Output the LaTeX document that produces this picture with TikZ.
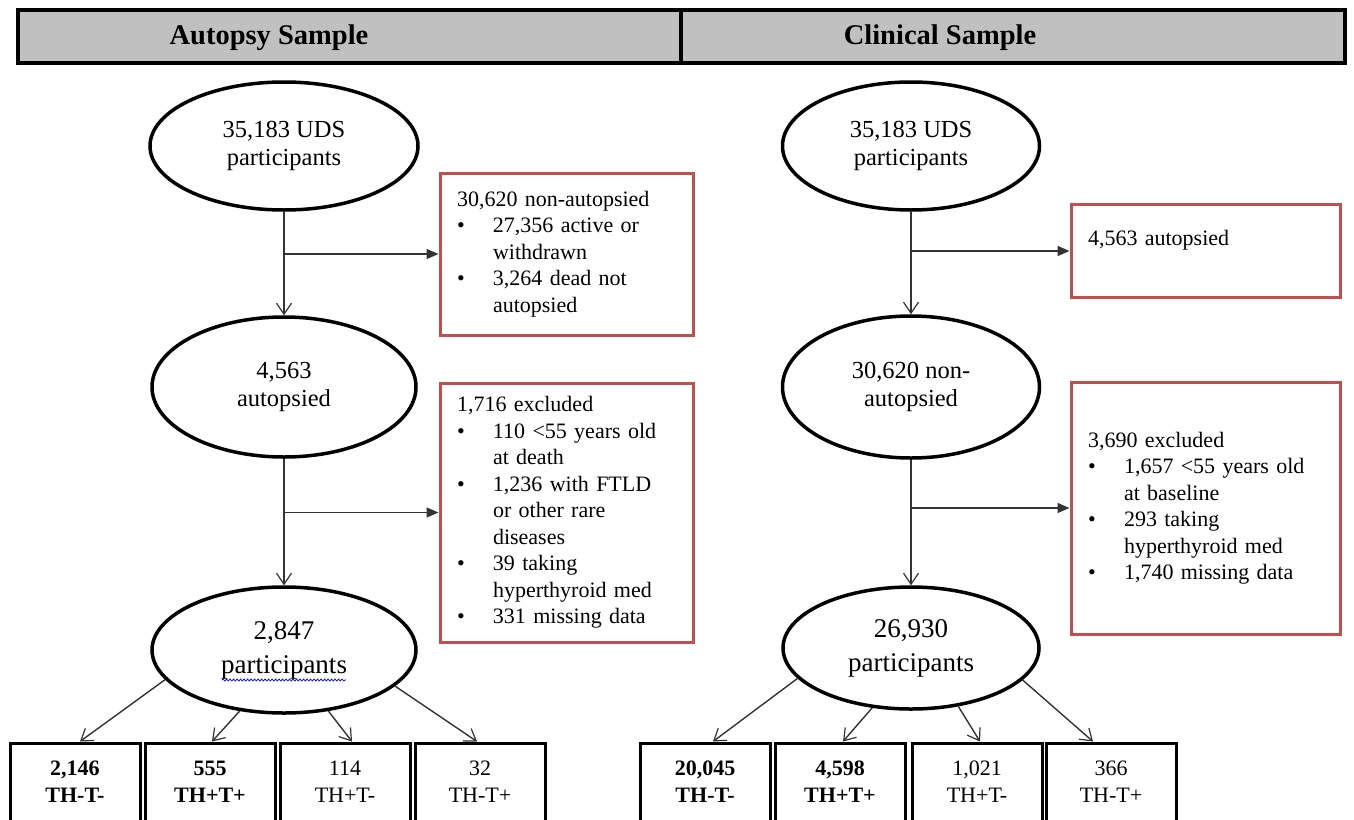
\documentclass[tikz,border=0pt]{standalone}
\usepackage{fontspec}
\setmainfont{Liberation Serif}
\usetikzlibrary{arrows.meta,shapes.geometric,decorations.pathmorphing}
\definecolor{boxred}{HTML}{C0504D}
\definecolor{hdrgray}{HTML}{C0C0C0}
\newcommand{\bl}{\makebox[36pt][l]{\textbullet}}
\newcommand{\ind}{\hspace*{36pt}}
\begin{document}
\begin{tikzpicture}[x=1pt,y=-1pt,
  every node/.style={font=\fontsize{22}{26.5}\selectfont},
  hdr/.style={draw, fill=hdrgray, line width=3.5pt, minimum height=53pt, inner sep=0pt},
  hdrtext/.style={font=\fontsize{28.5}{32}\selectfont\bfseries},
  ell/.style={ellipse, draw, line width=3.5pt, align=center, inner sep=0pt, font=\fontsize{24.5}{28}\selectfont},
  big/.style={font=\fontsize{27}{34}\selectfont},
  redbox/.style={draw=boxred, line width=3pt, align=left, text width=219pt, inner xsep=17pt, inner ysep=0pt},
  redboxR/.style={redbox, text width=235pt},
  catbox/.style={draw, line width=3pt, minimum width=130pt, minimum height=78pt, align=center, inner sep=0pt, font=\fontsize{22}{27}\selectfont},
  vline/.style={line width=1.4pt, draw=black!80, -{Straight Barb[length=11pt,width=15pt,line width=1.2pt]}},
  hline/.style={line width=1.4pt, draw=black!80, -{Triangle[length=12pt,width=10pt]}},
]
\useasboundingbox (0,0) rectangle (1354,819);

% header
\node[hdr, minimum width=663pt] (hl) at (349.5,36.5) {};
\node[hdr, minimum width=664pt] (hr) at (1013,36.5) {};
\node[hdrtext] (thl) at (269,38) {Autopsy Sample};
\node[hdrtext] (thr) at (940,38) {Clinical Sample};

% left column
\node[ell, minimum width=268pt, minimum height=128pt] (e1) at (284,146) {35,183 UDS\\participants};
\node[ell, minimum width=264pt, minimum height=140pt] (e2) at (284,387) {4,563\\autopsied};
\node[ell, big, minimum width=264pt, minimum height=126pt] (e3) at (284,650) {2,847\\participants};

\node[redbox, minimum height=162pt] (lb1) at (566.5,254) {30,620 non-autopsied\\
\bl 27,356 active or\\
\ind withdrawn\\
\bl 3,264 dead not\\
\ind autopsied};
\node[redbox, minimum height=259pt] (lb2) at (566.5,512.5) {1,716 excluded\\
\bl 110 <55 years old\\
\ind at death\\
\bl 1,236 with FTLD\\
\ind or other rare\\
\ind diseases\\
\bl 39 taking\\
\ind hyperthyroid med\\
\bl 331 missing data};

\draw[vline] (e1.south) -- (e2.north);
\draw[vline] (e2.south) -- (e3.north);
\draw[hline] (e1.south |- lb1.west) -- (lb1.west);
\draw[hline] (e2.south |- lb2.west) -- (lb2.west);

\draw[blue, line width=0.7pt, decorate, decoration={snake, amplitude=1pt, segment length=3.5pt}]
  (e3.center) ++(-62,30) -- ++(124,0);

\node[catbox] (a1) at (75,782) {\textbf{2,146}\\\textbf{TH-T-}};
\node[catbox] (a2) at (210,782) {\textbf{555}\\\textbf{TH+T+}};
\node[catbox] (a3) at (345,782) {114\\TH+T-};
\node[catbox] (a4) at (480,782) {32\\TH-T+};

\draw[vline] (e3.194) -- ([xshift=5pt]a1.north);
\draw[vline] (e3.234) -- ([xshift=2pt]a2.north);
\draw[vline] (e3.306) -- ([xshift=7pt]a3.north);
\draw[vline] (e3.342) -- ([xshift=-3pt]a4.north);

% right column
\node[ell, minimum width=257pt, minimum height=128pt] (r1) at (911,146) {35,183 UDS\\participants};
\node[ell, minimum width=257pt, minimum height=142pt] (r2) at (911,387) {30,620 non-\\autopsied};
\node[ell, big, minimum width=256pt, minimum height=122pt] (r3) at (911,648) {26,930\\participants};

\node[redboxR, minimum height=93pt] (rb1) at (1205.5,251) {4,563 autopsied\\\mbox{}};
\node[redboxR, minimum height=252pt] (rb2) at (1205.5,508) {3,690 excluded\\
\bl 1,657 <55 years old\\
\ind at baseline\\
\bl 293 taking\\
\ind hyperthyroid med\\
\bl 1,740 missing data};

\draw[vline] (r1.south) -- (r2.north);
\draw[vline] (r2.south) -- (r3.north);
\draw[hline] (r1.south |- rb1.west) -- (rb1.west);
\draw[hline] (r2.south |- rb2.west) -- (rb2.west);

\node[catbox] (c1) at (705,782) {\textbf{20,045}\\\textbf{TH-T-}};
\node[catbox] (c2) at (840,782) {\textbf{4,598}\\\textbf{TH+T+}};
\node[catbox] (c3) at (977,782) {1,021\\TH+T-};
\node[catbox] (c4) at (1111,782) {366\\TH-T+};

\draw[vline] (r3.195) -- ([xshift=8pt]c1.north);
\draw[vline] (r3.237) -- ([xshift=3pt]c2.north);
\draw[vline] (r3.309) -- ([xshift=3pt]c3.north);
\draw[vline] (r3.344) -- ([xshift=-18pt]c4.north);
\end{tikzpicture}
\end{document}
